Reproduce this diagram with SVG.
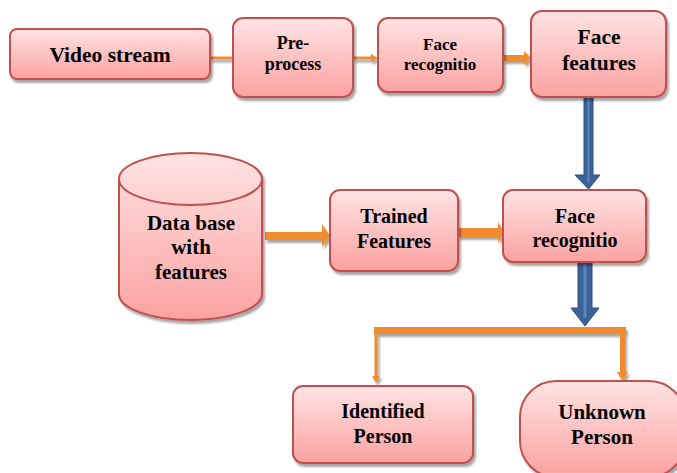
<svg xmlns="http://www.w3.org/2000/svg" width="677" height="473" viewBox="0 0 677 473" font-family="Liberation Serif, serif">
<defs>
<linearGradient id="g" x1="0" y1="0" x2="0" y2="1">
<stop offset="0" stop-color="#ffe3e3"/>
<stop offset="1" stop-color="#fba2a1"/>
</linearGradient>
<filter id="sh" x="-10%" y="-10%" width="130%" height="130%">
<feDropShadow dx="2" dy="3" stdDeviation="1.2" flood-color="#000" flood-opacity="0.35"/>
</filter>
<style>
.n{fill:url(#g);stroke:#c0504d;stroke-width:2;filter:url(#sh)}
.t{font-family:'Liberation Serif',serif;font-weight:bold;fill:#000;text-anchor:middle}
.o{fill:#f28a2e}
.ol{stroke:#f28a2e;fill:none}
.b{fill:#3d6297;stroke:#2f4f7f;stroke-width:1}
</style>
</defs>
<g id="connectors">
<g filter="url(#sh)">
<line class="ol" x1="210" y1="58" x2="233" y2="58" stroke-width="3"/>
<line class="ol" x1="353" y1="58" x2="372" y2="58" stroke-width="3"/>
<polygon class="o" points="371,54 378,58 371,62"/>
<rect class="o" x="503" y="55" width="22" height="6"/>
<polygon class="o" points="524,51 531,58 524,65"/>
<rect class="o" x="265" y="232" width="59" height="8"/>
<polygon class="o" points="322,224 330,236 322,247"/>
<rect class="o" x="458" y="228" width="42" height="9"/>
<polygon class="o" points="498,222 504,232 498,243"/>
<rect class="o" x="374" y="327" width="252" height="7"/>
<line class="ol" x1="376" y1="330" x2="376" y2="378" stroke-width="3"/>
<polygon class="o" points="372,376 376,383 380,376"/>
<rect class="o" x="620" y="330" width="5" height="44"/>
<polygon class="o" points="617,372 622.5,381 628,372"/>
</g>
<polygon class="b" points="584,96 593,96 593,175 600,175 588.5,189 575,175 584,175"/>
<line x1="588.5" y1="98" x2="588.5" y2="182" stroke="#5a86c0" stroke-width="2"/>
<polygon class="b" points="578,262 592,262 592,308 599,308 585,326 571,308 578,308"/>
<line x1="585" y1="264" x2="585" y2="318" stroke="#5a86c0" stroke-width="3"/>
</g>
<g id="video-stream">
<rect class="n" x="10" y="29" width="200" height="50" rx="7"/>
<text class="t" x="110" y="62" font-size="21.5">Video stream</text>
</g>
<g id="pre-process">
<rect class="n" x="233" y="18" width="120" height="79" rx="10"/>
<text class="t" x="293" y="49" font-size="18">Pre-</text>
<text class="t" x="293" y="70" font-size="18">process</text>
</g>
<g id="face-recognition-1">
<rect class="n" x="378" y="18" width="125" height="74" rx="10"/>
<text class="t" x="440" y="50" font-size="17">Face</text>
<text class="t" x="440" y="70" font-size="17">recognitio</text>
</g>
<g id="face-features">
<rect class="n" x="531" y="11" width="135" height="86" rx="11"/>
<text class="t" x="599" y="44" font-size="21.5">Face</text>
<text class="t" x="599" y="70" font-size="21.5">features</text>
</g>
<g id="database">
<path class="n" d="M119,179 A71.5,26 0 0 1 262,179 L262,294 A71.5,26 0 0 1 119,294 Z"/>
<path d="M119,179 A71.5,26 0 0 0 262,179" fill="none" stroke="#c0504d" stroke-width="2"/>
<text class="t" x="191" y="230" font-size="21">Data base</text>
<text class="t" x="191" y="254" font-size="21">with</text>
<text class="t" x="191" y="279" font-size="21">features</text>
</g>
<g id="trained-features">
<rect class="n" x="330" y="190" width="128" height="81" rx="10"/>
<text class="t" x="394" y="223" font-size="20">Trained</text>
<text class="t" x="394" y="248" font-size="20">Features</text>
</g>
<g id="face-recognition-2">
<rect class="n" x="503" y="190" width="143" height="72" rx="10"/>
<text class="t" x="575" y="223" font-size="20">Face</text>
<text class="t" x="575" y="247" font-size="20">recognitio</text>
</g>
<g id="identified-person">
<rect class="n" x="293" y="386" width="180" height="77" rx="10"/>
<text class="t" x="383" y="418" font-size="20">Identified</text>
<text class="t" x="383" y="443" font-size="20">Person</text>
</g>
<g id="unknown-person">
<rect class="n" x="520" y="381" width="165" height="96" rx="36"/>
<text class="t" x="602" y="419" font-size="21">Unknown</text>
<text class="t" x="602" y="444" font-size="21">Person</text>
</g>
</svg>
